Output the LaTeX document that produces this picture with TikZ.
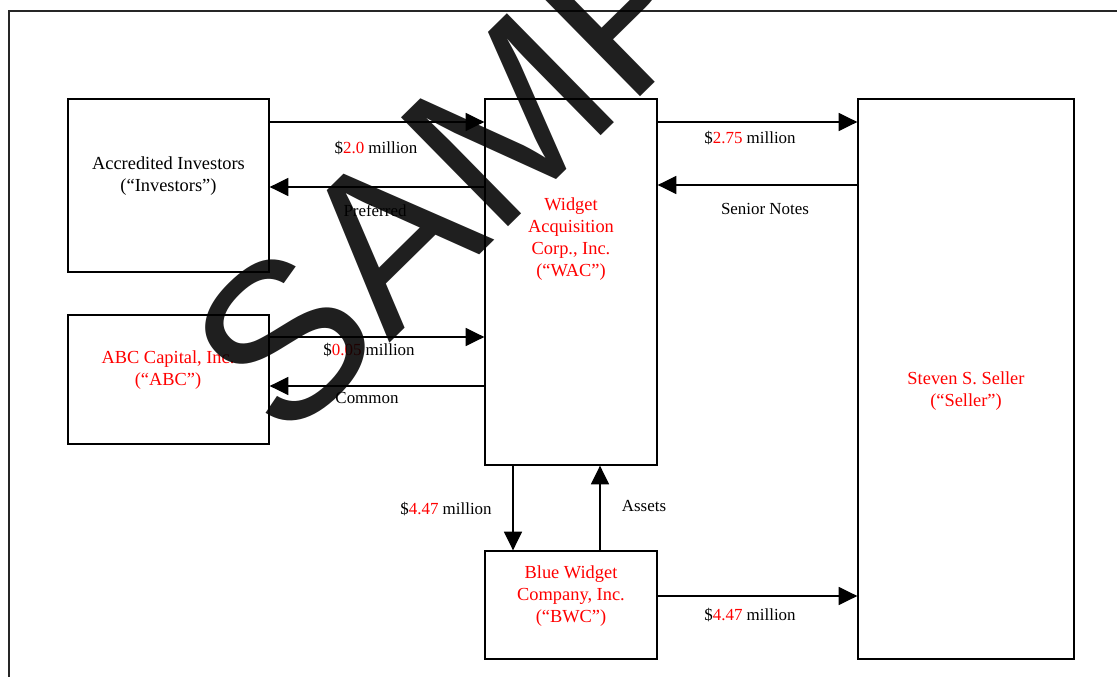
\documentclass[tikz,border=0pt]{standalone}
\usepackage{fontspec}
\setmainfont{Liberation Serif}
\newfontfamily\wmfont{Liberation Sans}
\usetikzlibrary{arrows.meta, positioning}

\begin{document}
\begin{tikzpicture}[
                x=0.75pt, y=-0.75pt,
                box/.style={rectangle, draw, line width=1pt, inner sep=0pt},
                party/.style={align=center, inner sep=0pt, font=\fontsize{13.8}{16.5}\selectfont},
                amount/.style={inner sep=0pt, font=\fontsize{12.7}{15}\selectfont},
                flow/.style={line width=1pt, -{Triangle[length=14pt, width=13.5pt]}}
            ]
                \useasboundingbox (0,0) rectangle (1117,677);
                \draw[line width=1.1pt, black!85] (9,700) rectangle (1140,11);

                % parties
                \node[box, minimum width=150.75pt, minimum height=129.75pt] (inv) at (168.5,185.5) {};
                \node[box, minimum width=150.75pt, minimum height=96.75pt] (abc) at (168.5,379.5) {};
                \node[box, minimum width=129pt, minimum height=274.5pt] (wac) at (571,282) {};
                \node[box, minimum width=162pt, minimum height=420pt] (seller) at (966,379) {};
                \node[box, minimum width=129pt, minimum height=81pt] (bwc) at (571,605) {};

                \node[party] (invtext) at (168.5,176) {Accredited Investors\\(``Investors'')};
                \node[party, red] (abctext) at (168,370) {ABC Capital, Inc.\\(``ABC'')};
                \node[party, red] (wactext) at (571,239.5) {Widget\\Acquisition\\Corp., Inc.\\(``WAC'')};
                \node[party, red] (sellertext) at (966,391) {Steven S. Seller\\(``Seller'')};
                \node[party, red] (bwctext) at (571,596) {Blue Widget\\Company, Inc.\\(``BWC'')};

                % amounts and consideration
                \node[amount] (amtinv) at (376,148) {\$\textcolor{red}{2.0} million};
                \node[amount] (pref) at (375,211) {Preferred};
                \node[amount] (amtabc) at (369,350) {\$\textcolor{red}{0.05} million};
                \node[amount] (common) at (367,398) {Common};
                \node[amount] (amtseller) at (750,138) {\$\textcolor{red}{2.75} million};
                \node[amount] (notes) at (765,209) {Senior Notes};
                \node[amount] (amtbwc) at (446,509) {\$\textcolor{red}{4.47} million};
                \node[amount] (assets) at (644,506) {Assets};
                \node[amount] (amtout) at (750,615) {\$\textcolor{red}{4.47} million};

                \draw[flow] (inv.east |- 0,122) -- (wac.west |- 0,122);
                \draw[flow] (wac.west |- 0,187) -- (inv.east |- 0,187);
                \draw[flow] (abc.east |- 0,337) -- (wac.west |- 0,337);
                \draw[flow] (wac.west |- 0,386) -- (abc.east |- 0,386);
                \draw[flow] (wac.east |- 0,122) -- (seller.west |- 0,122);
                \draw[flow] (seller.west |- 0,185) -- (wac.east |- 0,185);
                \draw[flow] (wac.south -| 513,0) -- (bwc.north -| 513,0);
                \draw[flow] (bwc.north -| 600,0) -- (wac.south -| 600,0);
                \draw[flow] (bwc.east |- 0,596) -- (seller.west |- 0,596);

                % watermark
                \node[anchor=base west, inner sep=0pt, rotate=44.5, text=black, text opacity=0.88,
                      font=\wmfont\fontsize{166.5}{166.5}\selectfont] (mark) at (284,447) {SAMPLE};
            \end{tikzpicture}
\end{document}
